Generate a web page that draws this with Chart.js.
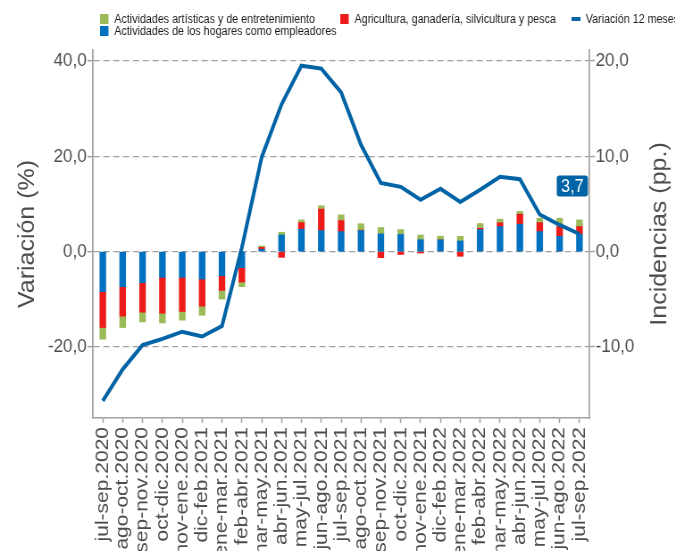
<!DOCTYPE html>
<html>
<head>
<meta charset="utf-8">
<script src="https://cdn.jsdelivr.net/npm/chart.js@4.4.1/dist/chart.umd.min.js"></script>
<style>
  html, body { margin: 0; padding: 0; background: #fff; overflow: hidden; }
  /* the reference is a little narrower than tall, so draw wide and squeeze */
  #wrap { width: 756px; height: 551px; transform: scaleX(0.893); transform-origin: 0 0; }
</style>
</head>
<body>
<div id="wrap"><canvas id="chart" width="756" height="551"></canvas></div>
<script>
// periods (moving quarters)
const periods = ['jul-sep.2020', 'ago-oct.2020', 'sep-nov.2020', 'oct-dic.2020', 'nov-ene.2020',
  'dic-feb.2021', 'ene-mar.2021', 'feb-abr.2021', 'mar-may.2021', 'abr-jun.2021', 'may-jul.2021',
  'jun-ago.2021', 'jul-sep.2021', 'ago-oct.2021', 'sep-nov.2021', 'oct-dic.2021', 'nov-ene.2021',
  'dic-feb.2022', 'ene-mar.2022', 'feb-abr.2022', 'mar-may.2022', 'abr-jun.2022', 'may-jul.2022',
  'jun-ago.2022', 'jul-sep.2022'];

// variación 12 meses (%), left axis
const variacion = [-31.3, -24.7, -19.6, -18.3, -16.8, -17.8, -15.6, 0.8, 19.8, 30.9, 39.0, 38.4,
  33.4, 22.4, 14.4, 13.6, 10.9, 13.2, 10.4, 13.0, 15.7, 15.2, 7.8, 5.6, 3.7];

// incidencias (pp.), right axis
const hogares = [-4.2, -3.68, -3.26, -2.7, -2.7, -2.88, -2.53, -1.68, 0.25, 1.75, 2.35, 2.21,
  2.1, 2.21, 1.86, 1.8, 1.25, 1.23, 1.12, 2.32, 2.63, 2.88, 2.1, 1.61, 1.82];
const agricultura = [-3.76, -3.09, -3.09, -3.76, -3.58, -2.84, -1.54, -1.51, 0.2, -0.6, 0.7, 2.25,
  1.16, 0.05, -0.63, -0.3, -0.15, 0.0, -0.49, 0.14, 0.39, 1.05, 0.95, 1.02, 0.81];
const artisticas = [-1.23, -1.19, -1.02, -1.02, -0.91, -0.95, -0.91, -0.49, 0.14, 0.28, 0.28, 0.35,
  0.6, 0.67, 0.67, 0.52, 0.5, 0.39, 0.49, 0.49, 0.39, 0.28, 0.46, 0.88, 0.7];

const leftTicks = [-20, 0, 20, 40];
const rightTicks = [-10, 0, 10, 20];
const lastLabel = '3,7';
const rightTitle = 'Incidencias (pp.)';

const family = '"Liberation Sans", Arial, sans-serif';
const textGrey = '#4d4d4d';
const axisGrey = '#a0a0a0';
const fmt = v => v.toFixed(1).replace('.', ',');

// legend laid out like the original (two columns + line key)
const legendBox = {
  id: 'legendBox',
  afterDraw(chart) {
    const ctx = chart.ctx;
    const spots = [[2, 112, 19], [0, 112, 31], [1, 381, 19], [3, 640, 19]];
    ctx.save();
    ctx.font = '12px ' + family;
    ctx.textBaseline = 'middle';
    spots.forEach(([i, x, y]) => {
      const ds = chart.data.datasets[i];
      if (ds.type === 'line') {
        ctx.fillStyle = ds.borderColor;
        ctx.fillRect(x, y - 2, 10, 4);
      } else {
        ctx.fillStyle = ds.backgroundColor;
        ctx.fillRect(x, y - 5, 9.5, 10);
      }
      ctx.fillStyle = '#1a1a1a';
      ctx.fillText(ds.label, x + 16, y + 0.5);
    });
    ctx.restore();
  }
};

// right axis title reads bottom-to-top like the left one
const rightAxisTitle = {
  id: 'rightAxisTitle',
  afterDraw(chart) {
    const s = chart.scales.y1;
    const ctx = chart.ctx;
    ctx.save();
    ctx.translate(s.right - 17, (s.top + s.bottom) / 2);
    ctx.rotate(-Math.PI / 2);
    ctx.font = '25px ' + family;
    ctx.fillStyle = textGrey;
    ctx.textAlign = 'center';
    ctx.textBaseline = 'middle';
    ctx.fillText(rightTitle, 0, 0);
    ctx.restore();
  }
};

// boxed value of the last point
const lastValue = {
  id: 'lastValue',
  afterDatasetsDraw(chart) {
    const meta = chart.getDatasetMeta(3);
    const pt = meta.data[meta.data.length - 1];
    const ctx = chart.ctx;
    const cx = pt.x - 8, cy = pt.y - 48;
    ctx.save();
    ctx.fillStyle = '#0063a6';
    ctx.beginPath();
    ctx.roundRect(cx - 17.5, cy - 10.5, 35, 21, 3);
    ctx.fill();
    ctx.fillStyle = '#fff';
    ctx.font = '18px ' + family;
    ctx.textAlign = 'center';
    ctx.textBaseline = 'middle';
    ctx.fillText(lastLabel, cx, cy + 1);
    ctx.restore();
  }
};

new Chart(document.getElementById('chart'), {
  data: {
    labels: periods,
    datasets: [
      { type: 'bar', label: 'Actividades de los hogares como empleadores', data: hogares,
        backgroundColor: '#0070c0', yAxisID: 'y1', barThickness: 6.7, order: 1 },
      { type: 'bar', label: 'Agricultura, ganadería, silvicultura y pesca', data: agricultura,
        backgroundColor: '#ee1b1b', yAxisID: 'y1', barThickness: 6.7, order: 1 },
      { type: 'bar', label: 'Actividades artísticas y de entretenimiento', data: artisticas,
        backgroundColor: '#9bbb59', yAxisID: 'y1', barThickness: 6.7, order: 1 },
      { type: 'line', label: 'Variación 12 meses', data: variacion, yAxisID: 'y',
        borderColor: '#0063a6', borderWidth: 4, pointRadius: 0, tension: 0, order: 0 }
    ]
  },
  options: {
    responsive: false,
    animation: false,
    layout: { padding: { top: 50, left: 0, right: 0, bottom: 0 } },
    plugins: { legend: { display: false }, tooltip: { enabled: false } },
    scales: {
      x: {
        stacked: true,
        offset: true,
        afterFit: s => { s.height = 133; },
        grid: { drawOnChartArea: false, offset: false, tickLength: 5, tickColor: axisGrey, tickWidth: 1.5 },
        border: { color: axisGrey, width: 1.5 },
        ticks: { minRotation: 90, maxRotation: 90, autoSkip: false, padding: 4, color: textGrey,
          font: { size: 21, family } }
      },
      y: {
        position: 'left',
        min: -34.9, max: 42.3,
        afterBuildTicks: s => { s.ticks = leftTicks.map(v => ({ value: v })); },
        afterFit: s => { s.width = 104; },
        grid: { color: axisGrey, lineWidth: 1.3, tickLength: 6, tickColor: axisGrey, tickWidth: 1.5 },
        border: { color: axisGrey, width: 1.7, dash: [7, 4] },
        ticks: { padding: 1, color: textGrey, font: { size: 19, family }, callback: v => fmt(v) },
        title: { display: true, text: 'Variación (%)', color: textGrey, font: { size: 25, family },
          padding: { top: 16, bottom: 0 } }
      },
      y1: {
        position: 'right',
        stacked: true,
        min: -17.45, max: 21.15,
        afterBuildTicks: s => { s.ticks = rightTicks.map(v => ({ value: v })); },
        afterFit: s => { s.width = 96; },
        grid: { drawOnChartArea: false, tickLength: 6, tickColor: axisGrey, tickWidth: 1.5 },
        border: { color: axisGrey, width: 1.7 },
        ticks: { padding: 1, color: textGrey, font: { size: 19, family }, callback: v => fmt(v) }
      }
    }
  },
  plugins: [legendBox, rightAxisTitle, lastValue]
});
</script>
</body>
</html>
